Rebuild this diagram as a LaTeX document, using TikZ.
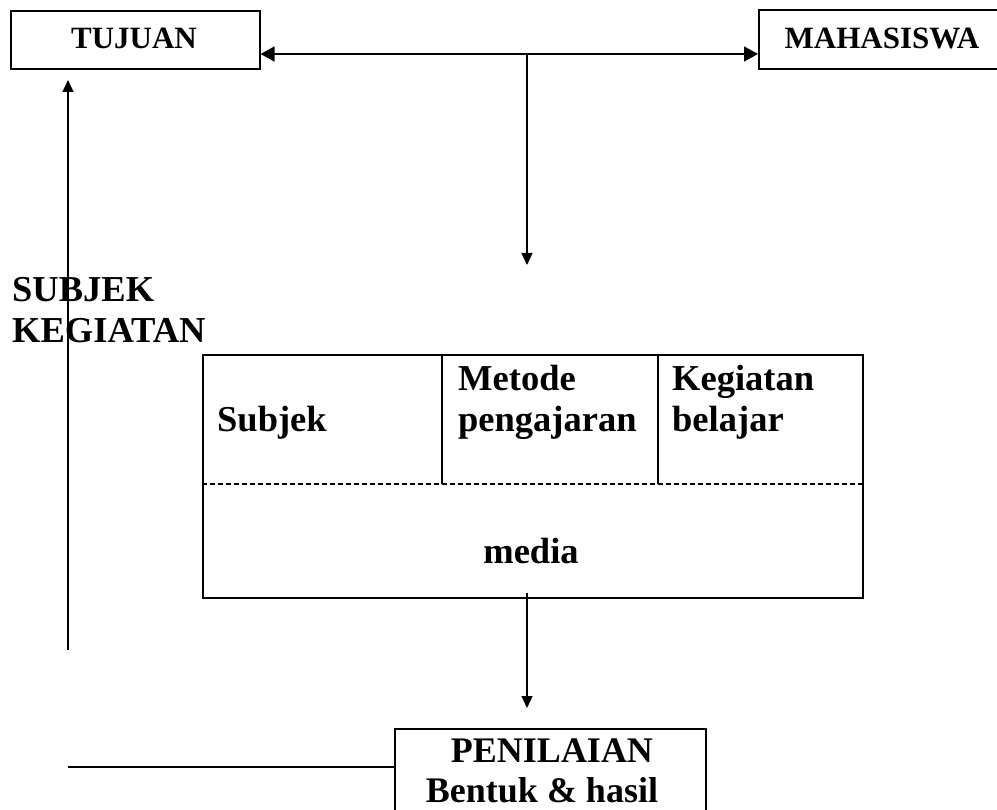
\documentclass[tikz,border=0pt]{standalone}
\usepackage{fontspec}
\setmainfont{Liberation Serif}
\usetikzlibrary{arrows.meta}
\tikzset{
  boxframe/.style={draw, line width=1.6pt, inner sep=0pt, anchor=north west},
  conn/.style={line width=1.3pt},
  tip/.style={-{Triangle[length=12pt,width=11pt]}},
  toptxt/.style={font=\fontsize{31}{36}\selectfont\bfseries, inner sep=0pt},
  bigtxt/.style={font=\fontsize{36.5}{42}\selectfont\bfseries, inner sep=0pt, anchor=base west},
  pentxt/.style={font=\fontsize{36}{40}\selectfont\bfseries, inner sep=0pt, anchor=base},
}
\begin{document}
\begin{tikzpicture}[x=1pt,y=1pt]
\useasboundingbox (0,0) rectangle (997,-810);
% top boxes
\node[boxframe, minimum width=249pt, minimum height=58pt] (tujuan) at (10,-10) {};
\node[toptxt] (tujuantxt) at (134,-38) {TUJUAN};
\node[boxframe, minimum width=245pt, minimum height=59pt] (maha) at (758,-9) {};
\node[toptxt] (mahatxt) at (882,-38) {MAHASISWA};
% junction and arrows
\coordinate (hj) at (527,-54);
\draw[line width=1.8pt, {Triangle[length=14pt,width=15pt]}-{Triangle[length=14pt,width=15pt]}] (tujuan.east |- hj) -- (maha.west |- hj);
\coordinate (downend) at (527,-265);
\draw[conn, tip] (hj) -- (downend);
% left side label and arrow
\node[bigtxt] (subj1) at (12,-302) {SUBJEK};
\node[bigtxt] (subj2) at (12,-343) {KEGIATAN};
\coordinate (lbot) at (68,-650);
\coordinate (ltop) at (68,-80);
\draw[conn, tip] (lbot) -- (ltop);
% middle box
\node[boxframe, minimum width=660pt, minimum height=243pt] (mid) at (202,-354) {};
\coordinate (d1) at (442,-484);
\coordinate (d2) at (658,-484);
\draw[conn] (442,-354) -- (d1);
\draw[conn] (658,-354) -- (d2);
\draw[line width=1.2pt, dash pattern=on 5pt off 3pt] (mid.west |- d1) -- (mid.east |- d1);
\node[bigtxt] (tsubjek) at (217,-432) {Subjek};
\node[bigtxt] (tmetode) at (458,-391) {Metode};
\node[bigtxt] (tpeng) at (458,-432) {pengajaran};
\node[bigtxt] (tkeg) at (672,-391) {Kegiatan};
\node[bigtxt] (tbel) at (672,-432) {belajar};
\node[bigtxt, anchor=base] (tmedia) at (531,-563) {media};
% bottom
\coordinate (mstart) at (527,-593);
\coordinate (mend) at (527,-708);
\draw[conn, tip] (mstart) -- (mend);
\node[boxframe, minimum width=311pt, minimum height=100pt] (pen) at (394,-728) {};
\node[pentxt] (pen1) at (552,-762) {PENILAIAN};
\node[pentxt] (pen2) at (542,-802) {Bentuk \& hasil};
\coordinate (hl) at (68,-767);
\draw[conn] (hl) -- (pen.west |- hl);
\end{tikzpicture}
\end{document}
